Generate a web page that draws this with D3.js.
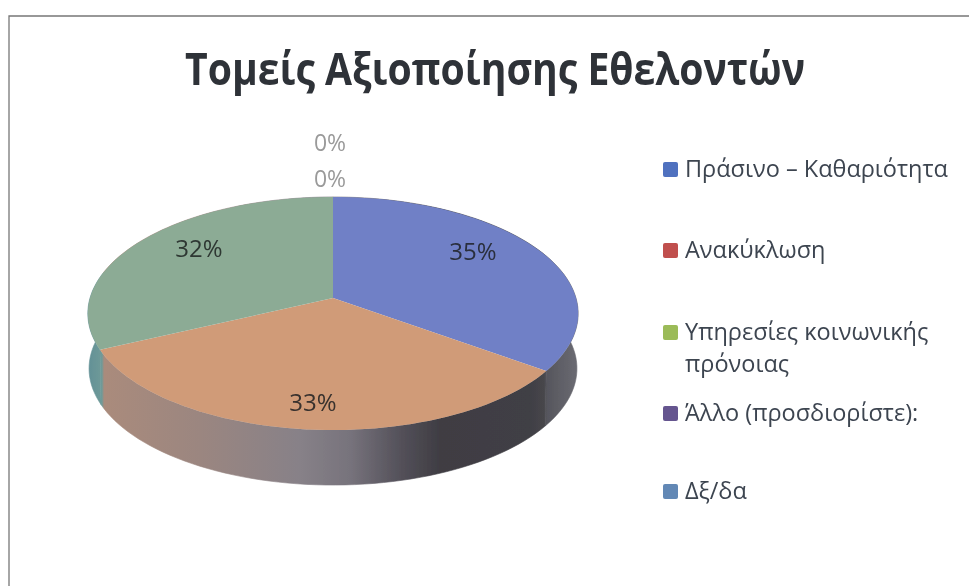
<!DOCTYPE html>
<html>
<head>
<meta charset="utf-8">
<script src="https://cdn.jsdelivr.net/npm/d3@7"></script>
<style>
html,body{margin:0;padding:0;background:#fff;overflow:hidden}
text{font-family:"Open Sans","DejaVu Sans",sans-serif}
</style>
</head>
<body>
<svg id="c" width="969" height="586"></svg>
<script>
const titleText = "Τομείς Αξιοποίησης Εθελοντών";
const categories = ["Πράσινο – Καθαριότητα","Ανακύκλωση","Υπηρεσίες κοινωνικής|πρόνοιας","Άλλο (προσδιορίστε):","Δξ/δα"];
const values = [35,33,32,0,0];
const percentLabels = ["35%","33%","32%","0%","0%"];
const legendColors = ["#4f71bf","#c0504d","#9bbb59","#65558f","#6288b5"];
const topColors = ["#7080c6","#d09b78","#8cab95","#65558f","#6288b5"];
const labelColors = ["#2a2f3c","#37312d","#2e3733","#9a9a9a","#9a9a9a"];
const labelAnchors = [[473,252],[313,403],[199,249],[330,179],[330,143]];
const legendRows = [169,250,332,413,491];
const wallStops = [[85,"#5f8e96"],[102,"#6f9a98"],[104,"#aa8b7c"],[200,"#9b8680"],[300,"#878188"],[350,"#77737c"],[400,"#54515a"],[440,"#3f3d43"],[530,"#403f45"],[544,"#47464b"],[547,"#56565d"],[580,"#6c6c74"]];

const svg = d3.select("#c");
const defs = svg.append("defs");
defs.append("filter").attr("id","scan").attr("x","-5%").attr("y","-5%").attr("width","110%").attr("height","110%")
  .append("feGaussianBlur").attr("stdDeviation",0.55);
const grad = defs.append("linearGradient").attr("id","wall").attr("gradientUnits","userSpaceOnUse")
  .attr("x1",85).attr("x2",580).attr("y1",0).attr("y2",0);
wallStops.forEach(s=>grad.append("stop").attr("offset",(s[0]-85)/495).attr("stop-color",s[1]));

const root = svg.append("g").attr("filter","url(#scan)");

// scan frame
root.append("path").attr("d","M9,586V16H969").attr("fill","none").attr("stroke","#777").attr("stroke-width",1.3);

// title
root.append("text").attr("x",495).attr("y",85).attr("text-anchor","middle")
  .attr("font-size",45).attr("font-weight",700).attr("fill","#2f3237")
  .attr("textLength",620).attr("lengthAdjust","spacingAndGlyphs").text(titleText);

// perspective pie
const cx=333, cy=298, a=114.5, b=243, k=0.133, depth=55, shrink=0.995;
const proj = t => { const u=Math.sin(t), v=-Math.cos(t), d=1-k*v; return [cx+b*u/d, cy+a*v/d]; };
const low = t => { const p=proj(t); return [cx+(p[0]-cx)*shrink, p[1]+depth]; };
const pie = d3.pie().sort(null).value(d=>d);
const arcs = pie(values);
const line = d3.line();
const rim = (s,e) => d3.range(0,61).map(i=>s+(e-s)*i/60);

root.append("g").selectAll("path").data(arcs.filter(d=>d.value>0)).join("path")
  .attr("d",d=>{const ts=rim(d.startAngle,d.endAngle);return line(ts.map(proj).concat(ts.slice().reverse().map(low)))+"Z";})
  .attr("fill","url(#wall)").attr("stroke","url(#wall)").attr("stroke-width",0.6);
root.append("g").selectAll("path").data(arcs.filter(d=>d.value>0)).join("path")
  .attr("d",d=>line([[cx,cy]].concat(rim(d.startAngle,d.endAngle).map(proj)))+"Z")
  .attr("fill",d=>topColors[d.index]);

// labels
root.append("g").selectAll("text").data(percentLabels).join("text")
  .attr("x",(d,i)=>labelAnchors[i][0]).attr("y",(d,i)=>labelAnchors[i][1]).attr("dy","0.35em")
  .attr("text-anchor","middle").attr("font-size",(d,i)=>values[i]>0?24:23).attr("fill",(d,i)=>labelColors[i]).text(d=>d);

// legend
const lg = root.append("g").selectAll("g").data(categories).join("g")
  .attr("transform",(d,i)=>`translate(0,${legendRows[i]})`);
lg.append("rect").attr("x",663).attr("y",-7).attr("width",15).attr("height",15).attr("rx",2)
  .attr("fill",(d,i)=>legendColors[i]);
lg.each(function(d){
  const g=d3.select(this);
  d.split("|").forEach((t,j)=>g.append("text").attr("x",685).attr("y",j*32).attr("dy","0.35em")
    .attr("font-size",23.5).attr("fill","#3c4450").text(t));
});
</script>
</body>
</html>
